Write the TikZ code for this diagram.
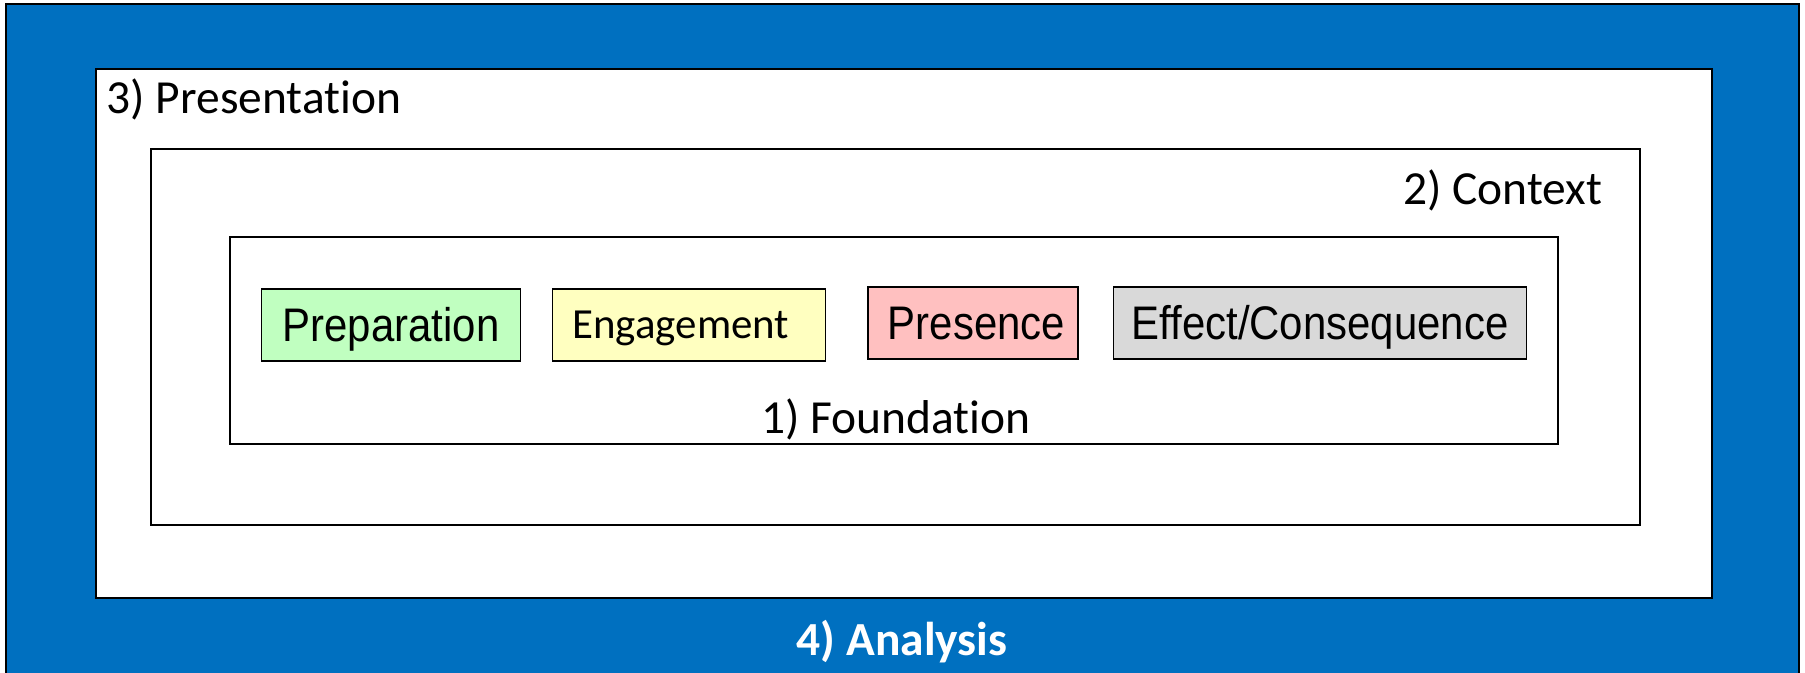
\documentclass[tikz,border=0pt]{standalone}
\usepackage{fontspec}
\setmainfont[Ligatures=NoCommon]{Carlito}
\newfontfamily\arialfont[FakeStretch=0.89]{Liberation Sans}
\definecolor{analysisblue}{RGB}{0,112,192}
\definecolor{prepgreen}{RGB}{192,255,192}
\definecolor{engyellow}{RGB}{255,255,192}
\definecolor{presred}{RGB}{255,192,192}
\definecolor{effgray}{RGB}{217,217,217}
\tikzset{
	layer/.style={draw=black, line width=0.6pt, fill=white},
	layerlabel/.style={font=\fontsize{13.5}{16}\selectfont, inner sep=0pt},
	phase/.style={draw=black, line width=0.35pt, inner sep=0pt, text height=9.5pt, text depth=0pt,
		minimum height=0.72cm, font=\arialfont\fontsize{13.4}{16}\selectfont}
}
\begin{document}
\begin{tikzpicture}[x=0.01cm,y=-0.01cm]
		\useasboundingbox (0,0) rectangle (1805,673);
		% outer band
		\fill[analysisblue] (6,4) rectangle (1799,673);
		\draw[line width=0.6pt] (6,673) -- (6,4) -- (1799,4) -- (1799,673);
		% nested layers
		\draw[layer] (96,69) rectangle (1712,598);
		\draw[layer] (151,149) rectangle (1640,525);
		\draw[layer, line width=0.5pt] (230,237) rectangle (1558,444);
		\node[layerlabel, anchor=base west] (presentation) at (106,114) {3) Presentation};
		\node[layerlabel, anchor=base east] (context) at (1603,205) {2) Context};
		\node[layerlabel, anchor=base] (foundation) at (896,434) {1) Foundation};
		\node[layerlabel, anchor=base, text=white, font=\bfseries\fontsize{13.5}{16}\selectfont] (analysis) at (902,655) {4) Analysis};
		% phases
		\node[phase, fill=prepgreen, minimum width=2.59cm] (preparation) at (391,325) {Preparation};
		\node[phase, fill=engyellow, inner xsep=0.2cm, text width=2.33cm, align=left, text height=7.9pt,
			font=\fontsize{12.2}{14}\selectfont] (engagement) at (689,325) {Engagement};
		\node[phase, fill=presred, minimum width=2.10cm] (presence) at (973,323) {\hspace{2pt}Presence};
		\node[phase, fill=effgray, minimum width=4.13cm] (effect) at (1320,323) {Effect/Consequence};
	\end{tikzpicture}
\end{document}
